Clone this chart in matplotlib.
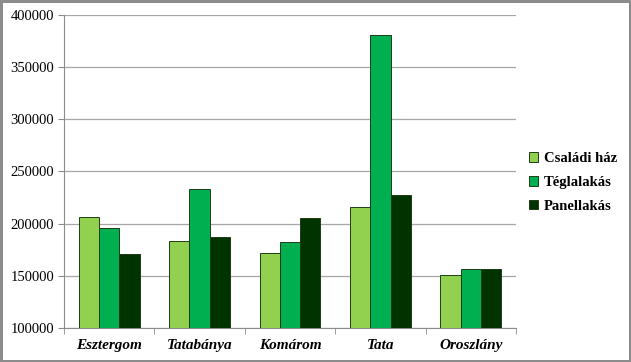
import matplotlib.pyplot as plt
import numpy as np

cities = ["Esztergom", "Tatabánya", "Komárom", "Tata", "Oroszlány"]
series = ["Családi ház", "Téglalakás", "Panellakás"]
csaladi = [206000, 183000, 172000, 216000, 151000]
tegla = [196000, 233000, 182500, 380500, 156500]
panel = [171000, 187500, 205000, 227000, 156500]
colors = ["#92D050", "#00B050", "#003300"]
yticks = [100000, 150000, 200000, 250000, 300000, 350000, 400000]

plt.rcParams["font.family"] = ["Liberation Serif", "DejaVu Serif"]

fig = plt.figure(figsize=(6.31, 3.62), dpi=100)
fig.patch.set_edgecolor("#8c8c8c")
fig.patch.set_linewidth(2.5)
ax = fig.add_axes([64 / 631, 34 / 362, 452 / 631, 313.5 / 362])

x = np.arange(len(cities))
w = 0.224
for i, (vals, name) in enumerate(zip([csaladi, tegla, panel], series)):
    ax.bar(x + (i - 1) * w, np.array(vals) - 100000, w, bottom=100000,
           color=colors[i], edgecolor="#1e3d14", linewidth=0.7,
           label=name, zorder=3)

ax.set_xlim(-0.5, len(cities) - 0.5)
ax.set_ylim(100000, 400000)
ax.set_yticks(yticks)
ax.set_yticklabels([str(v) for v in yticks], fontsize=10.5)
ax.yaxis.grid(True, color="#a6a6a6", linewidth=0.9, zorder=0)

ax.set_xticks(x)
ax.set_xticklabels(cities, fontsize=11, fontweight="bold", fontstyle="italic")
ax.set_xticks(np.arange(-0.5, len(cities)), minor=True)
ax.tick_params(axis="x", which="major", length=0, pad=8)
ax.tick_params(axis="x", which="minor", length=4, color="#8c8c8c")
ax.tick_params(axis="y", length=4, color="#8c8c8c", pad=3)

for s in ["top", "right"]:
    ax.spines[s].set_visible(False)
for s in ["left", "bottom"]:
    ax.spines[s].set_color("#8c8c8c")

ax.legend(loc="center left", bbox_to_anchor=(1.0, 0.464), frameon=False,
          prop={"weight": "bold", "size": 10.5}, handlelength=0.6,
          handleheight=0.6, handletextpad=0.4, labelspacing=0.75)

fig.savefig("out.png", dpi=100)
